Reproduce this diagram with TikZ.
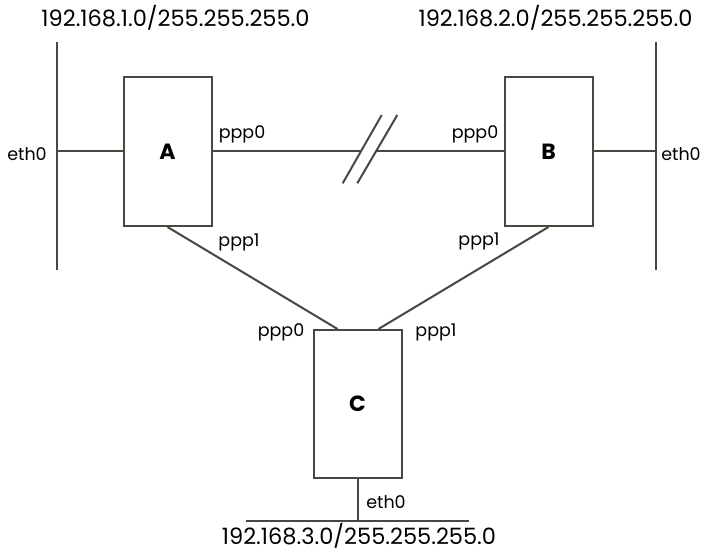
\documentclass[tikz,border=0pt]{standalone}
\usepackage{fontspec}
\setmainfont{Poppins}
\usetikzlibrary{positioning}
\definecolor{ln}{HTML}{4A4640}
\tikzset{
  every picture/.style={x=1pt,y=-1pt},
  wire/.style={draw=ln,line width=2pt},
  router/.style={draw=ln,line width=2pt,fill=white,minimum width=88pt,minimum height=149pt,inner sep=0pt,font=\fontsize{22}{22}\selectfont\bfseries},
  iflabel/.style={anchor=base,inner sep=0pt,font=\fontsize{17.5}{17.5}\selectfont},
  netlabel/.style={anchor=base,inner sep=0pt,font=\fontsize{22.5}{22.5}\selectfont}
}
\begin{document}
\begin{tikzpicture}
\useasboundingbox (0,0) rectangle (705,553);
% buses
\coordinate (l1) at (57,42);  \coordinate (l2) at (57,270);
\coordinate (r1) at (656,42); \coordinate (r2) at (656,270);
\coordinate (b1) at (246,521); \coordinate (b2) at (469,521);
\coordinate (la) at (57,151.5); \coordinate (rb) at (656,151.5);
\coordinate (bc) at (357.5,521);
\draw[wire] (l1) -- (l2);
\draw[wire] (r1) -- (r2);
\draw[wire] (b1) -- (b2);
% routers
\node[router] (A) at (167.5,151.5) {A};
\node[router] (B) at (548.5,151.5) {B};
\node[router,minimum height=148pt] (C) at (357.5,404) {C};
% ethernet links
\draw[wire] (la) -- (A.west);
\draw[wire] (B.east) -- (rb);
\draw[wire] (C.south) -- (bc);
% broken ppp link
\coordinate (k1) at (361,151.5);
\coordinate (k2) at (376,151.5);
\coordinate (s1a) at (342.7,183.3); \coordinate (s1b) at (381.7,115);
\coordinate (s2a) at (357.3,183.3); \coordinate (s2b) at (397.3,115);
\draw[wire] (A.east) -- (k1);
\draw[wire] (k2) -- (B.west);
\draw[wire] (s1a) -- (s1b);
\draw[wire] (s2a) -- (s2b);
% diagonals
\draw[wire] (A.south) -- ([xshift=-20pt]C.north);
\draw[wire] (B.south) -- ([xshift=21pt]C.north);
% labels
\node[netlabel] (n1) at (175.5,26.5) {192.168.1.0/255.255.255.0};
\node[netlabel] (n2) at (555.5,26.5) {192.168.2.0/255.255.255.0};
\node[netlabel] (n3) at (359,544.5) {192.168.3.0/255.255.255.0};
\node[iflabel] (e1) at (27,160.7) {eth0};
\node[iflabel] (e2) at (681,160.7) {eth0};
\node[iflabel] (e3) at (386,508) {eth0};
\node[iflabel] (pa0) at (242,139) {ppp0};
\node[iflabel] (pb0) at (475,139) {ppp0};
\node[iflabel] (pa1) at (239,247) {ppp1};
\node[iflabel] (pb1) at (479,246) {ppp1};
\node[iflabel] (pc0) at (281,337) {ppp0};
\node[iflabel] (pc1) at (436,337) {ppp1};
\end{tikzpicture}
\end{document}
